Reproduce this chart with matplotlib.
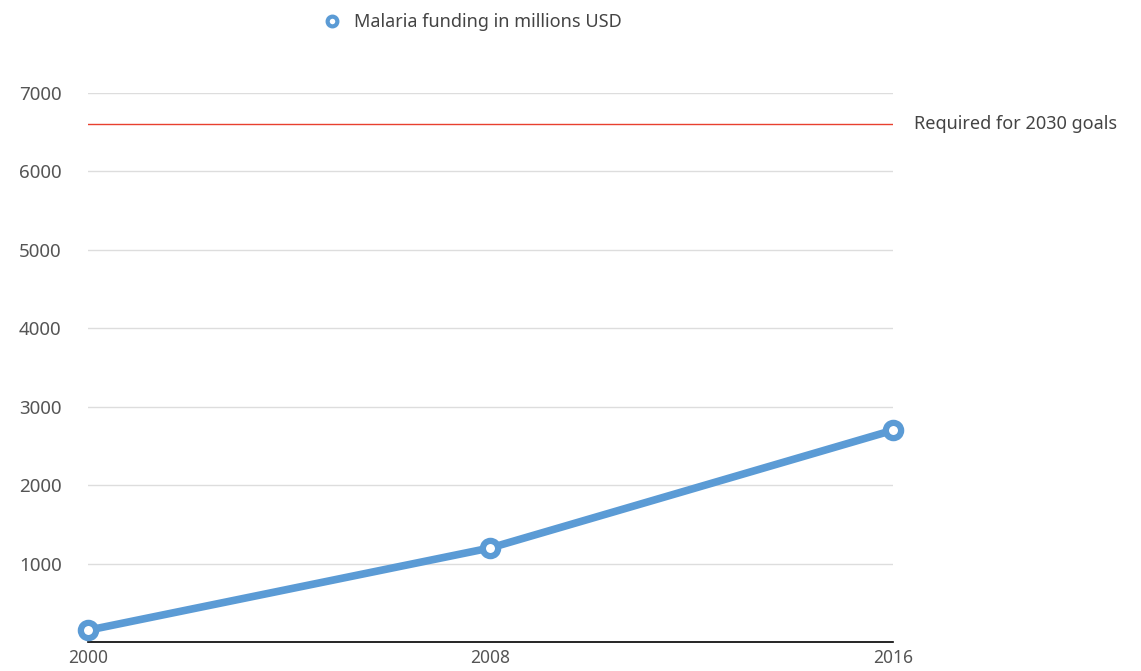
import matplotlib.pyplot as plt

years = [2000, 2008, 2016]
funding = [150, 1200, 2700]
required = 6600
yticks = [1000, 2000, 3000, 4000, 5000, 6000, 7000]

blue = '#5b9bd5'
plt.rcParams['font.family'] = ['Noto Sans', 'DejaVu Sans']

fig = plt.figure(figsize=(11.41, 6.71), dpi=100)
ax = fig.add_axes([0.0771, 0.0432, 0.7055, 0.8182])

for y in yticks:
    ax.axhline(y, color='#dddddd', lw=1, zorder=1)
ax.axhline(required, color='#e8402f', lw=1, zorder=2)
ax.text(1.026, required, 'Required for 2030 goals', transform=ax.get_yaxis_transform(),
        va='center', ha='left', fontsize=13, color='#444444')

ax.plot(years, funding, color=blue, lw=5.5, marker='o', ms=11, mew=4.5,
        mfc='white', mec=blue, clip_on=False, zorder=3,
        label='Malaria funding in millions USD')

ax.set_xlim(2000, 2016)
ax.set_ylim(0, 7000)
ax.set_xticks(years)
ax.set_yticks(yticks)
ax.tick_params(axis='y', length=0, pad=19, labelsize=13.5, labelcolor='#555555')
ax.tick_params(axis='x', length=0, pad=5, labelsize=12.5, labelcolor='#555555')
for s in ['top', 'right', 'left']:
    ax.spines[s].set_visible(False)
ax.spines['bottom'].set_color('black')
ax.spines['bottom'].set_linewidth(1.2)

leg = ax.legend(handles=[plt.Line2D([], [], ls='none', marker='o', ms=7, mew=3,
                                   mfc='white', mec=blue)],
                labels=['Malaria funding in millions USD'],
                loc='center', bbox_to_anchor=(0.413, 0.967), bbox_transform=fig.transFigure,
                frameon=False, fontsize=13, handletextpad=0.6, handlelength=1.2)
for t in leg.get_texts():
    t.set_color('#444444')

fig.savefig('out.png', dpi=100)
